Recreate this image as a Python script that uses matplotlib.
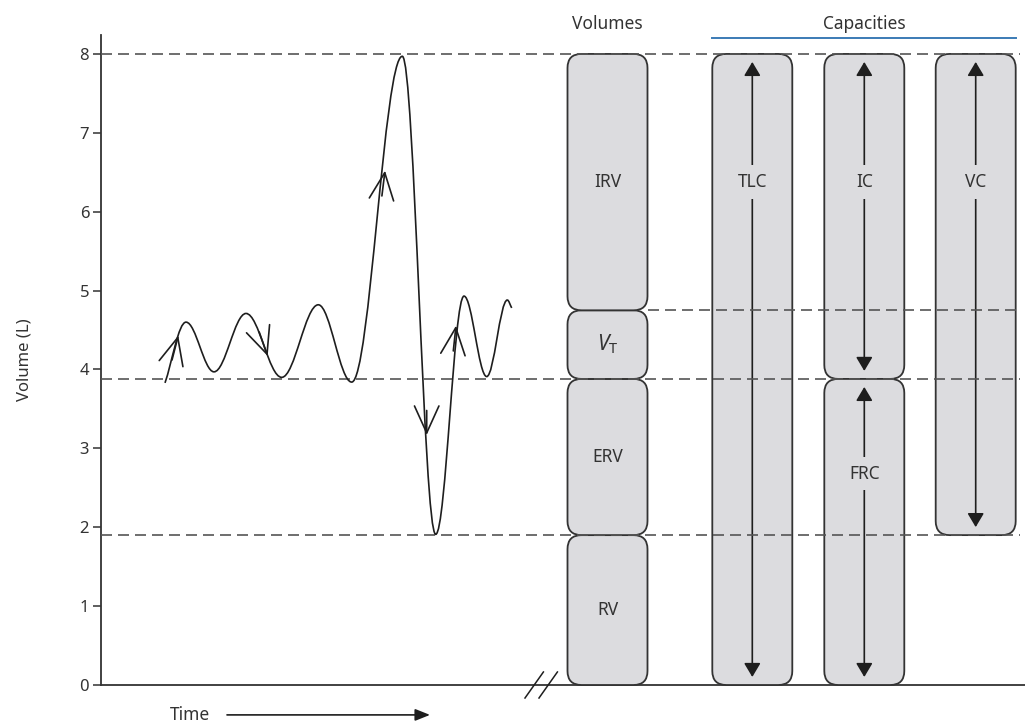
import numpy as np
import matplotlib.pyplot as plt
from matplotlib.patches import FancyBboxPatch, FancyArrowPatch, PathPatch
from matplotlib.path import Path

plt.rcParams['font.family'] = ['Noto Sans', 'DejaVu Sans']
plt.rcParams['mathtext.fontset'] = 'custom'
plt.rcParams['mathtext.rm'] = 'Noto Sans'
plt.rcParams['mathtext.it'] = 'Noto Sans:italic'

# spirogram trace, turning points (time in arbitrary units, volume in L)
trace_t = [64, 85, 113, 145, 180.7, 217.3, 250.7, 301.3, 334.7, 363, 385.7, 406.3, 410.7]
trace_v = [3.83, 4.60, 3.97, 4.71, 3.90, 4.82, 3.84, 7.97, 1.91, 4.93, 3.91, 4.88, 4.78]

# direction arrows along the trace (tail -> tip)
arrow_tail_t = [71.0, 158.2, 280.9, 325.7, 352.3]
arrow_tail_v = [4.12, 4.475, 6.20, 3.48, 4.235]
arrow_tip_t = [77.3, 166.7, 284.0, 325.7, 355.0]
arrow_tip_v = [4.43, 4.17, 6.52, 3.17, 4.555]

# lung volumes, bottom to top (L)
vol_names = ['RV', 'ERV', r'$V_\mathrm{T}$', 'IRV']
vol_sizes = [1.9, 1.98, 0.87, 3.25]

yticks = [0, 1, 2, 3, 4, 5, 6, 7, 8]

TXT = '#333333'
INK = '#1e1e1e'
FILL = '#dcdcdf'
EDGE = '#333333'

bounds = np.concatenate([[0], np.cumsum(vol_sizes)])
rv_top, frc_top, eil_top, tlc_top = bounds[1], bounds[2], bounds[3], bounds[4]

# capacities built from the volumes
cap_names = ['TLC', 'IC', 'FRC', 'VC']
cap_low = [0, frc_top, 0, rv_top]
cap_high = [tlc_top, tlc_top, frc_top, tlc_top]

fig = plt.figure(figsize=(10.25, 7.23), dpi=100)
ax = fig.add_axes([101 / 1025, 38 / 723, 924 / 1025, 650 / 723])
ax.set_xlim(0, 924)
ax.set_ylim(0, 8.24)

for s in ['top', 'right']:
    ax.spines[s].set_visible(False)
for s in ['left', 'bottom']:
    ax.spines[s].set_color(EDGE)
    ax.spines[s].set_linewidth(1.3)
ax.set_xticks([])
ax.set_yticks(yticks)
ax.tick_params(axis='y', direction='out', length=6, width=1.1, colors=EDGE,
               labelcolor=TXT, labelsize=12, pad=2.5)
ax.set_ylabel('Volume (L)', fontsize=12, color=TXT)
ax.yaxis.set_label_coords(-0.0736, 0.5)

# pixel aspect so the rounded corners stay circular
ypx = 650 / 8.24

# dashed reference levels
dash = dict(color='#555555', lw=1.2, ls=(0, (6.6, 3.6)), zorder=5)
for lev in [rv_top, frc_top, tlc_top]:
    ax.plot([0, 919], [lev, lev], **dash)
ax.plot([546.7, 919], [eil_top, eil_top], **dash)

# trace as a smooth bezier through the turning points
def trace_path(ts, vs, k=0.36):
    verts = [(ts[0], vs[0])]
    codes = [Path.MOVETO]
    n = len(ts)
    for i in range(n - 1):
        x0, y0, x1, y1 = ts[i], vs[i], ts[i + 1], vs[i + 1]
        dx, dy = x1 - x0, y1 - y0
        c1 = (x0 + dx / 3, y0 + dy / 3) if i == 0 else (x0 + k * dx, y0)
        c2 = (x1 - dx / 3, y1 - dy / 3) if i == n - 2 else (x1 - k * dx, y1)
        verts += [c1, c2, (x1, y1)]
        codes += [Path.CURVE4] * 3
    return Path(verts, codes)

ax.add_patch(PathPatch(trace_path(trace_t, trace_v), fill=False, ec=INK, lw=1.2, zorder=6))

for t0, v0, t1, v1 in zip(arrow_tail_t, arrow_tail_v, arrow_tip_t, arrow_tip_v):
    ax.add_patch(FancyArrowPatch((t0, v0), (t1, v1),
                                 arrowstyle='->,head_length=19.4,head_width=8.8',
                                 mutation_scale=1, shrinkA=0, shrinkB=0,
                                 color=INK, lw=1.2, zorder=6))

# box columns
w = 80
vol_x = 506.5
cap_x = [651.3, 763.3, 763.3, 874.7]

def rbox(xc, lo, hi):
    ax.add_patch(FancyBboxPatch((xc - w / 2, lo), w, hi - lo,
                                boxstyle='round,pad=0,rounding_size=14',
                                mutation_aspect=1 / ypx, fc=FILL, ec=EDGE,
                                lw=1.3, zorder=3, clip_on=False))

for name, lo, hi in zip(vol_names, bounds[:-1], bounds[1:]):
    rbox(vol_x, lo, hi)
    ax.text(vol_x, (lo + hi) / 2, name, ha='center', va='center',
            fontsize=15 if name.startswith('$') else 12.5, color=TXT, zorder=7)

inset = 8 / ypx
for name, xc, lo, hi in zip(cap_names, cap_x, cap_low, cap_high):
    rbox(xc, lo, hi)
    ax.add_patch(FancyArrowPatch((xc, lo + inset), (xc, hi - inset),
                                 arrowstyle='<|-|>,head_length=8.4,head_width=5',
                                 mutation_scale=1, shrinkA=0, shrinkB=0,
                                 color=INK, lw=1.2, zorder=4))
    ly = 6.38 if hi == tlc_top else 2.68
    ax.text(xc, ly, name, ha='center', va='center', fontsize=12.5, color=TXT,
            zorder=7, bbox=dict(boxstyle='square,pad=0.45', fc=FILL, ec='none'))

# column headers
xt = ax.get_xaxis_transform()
ax.text(vol_x, 1.009, 'Volumes', transform=xt, ha='center', va='baseline',
        fontsize=12.5, color=TXT)
ax.text((cap_x[0] + cap_x[3]) / 2, 1.009, 'Capacities', transform=xt,
        ha='center', va='baseline', fontsize=12.5, color=TXT)
ax.plot([cap_x[0] - w / 2, cap_x[3] + w / 2], [0.995, 0.995], transform=xt,
        color='#3b7bb5', lw=1.4, clip_on=False)

# axis break marks
bx = 440.2
for off in (-7, 7):
    ax.plot([bx + off - 9.2, bx + off + 9.2], [-0.165, 0.165], color=INK,
            lw=1.1, clip_on=False, zorder=8)

# time label with arrow
ax.text(69, -0.0538, 'Time', transform=xt, ha='left', va='baseline',
        fontsize=12.5, color=TXT)
ax.annotate('', xy=(329, -0.046), xytext=(126, -0.046), xycoords=xt,
            textcoords=xt, annotation_clip=False,
            arrowprops=dict(arrowstyle='-|>,head_length=9,head_width=3.6',
                            mutation_scale=1, shrinkA=0, shrinkB=0,
                            color=INK, lw=1.2))

fig.savefig('out.png', dpi=100)
